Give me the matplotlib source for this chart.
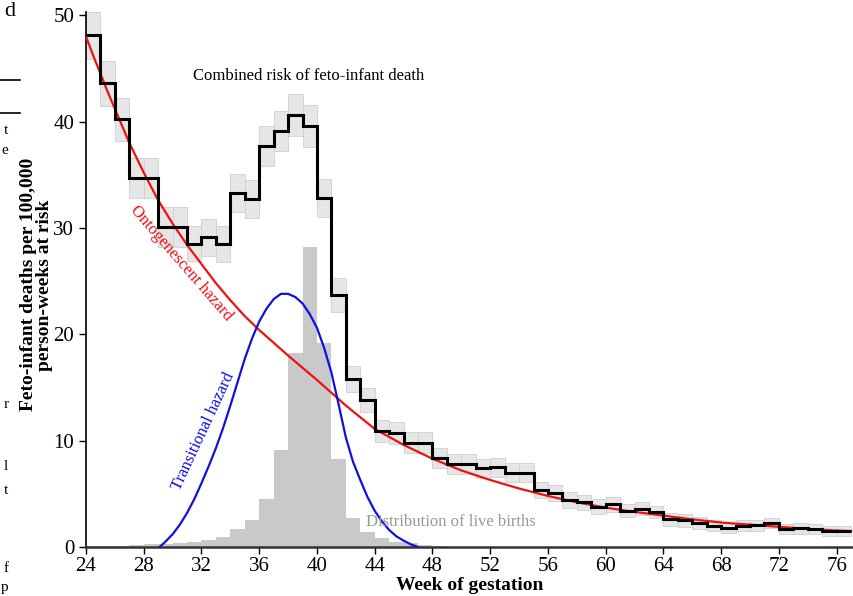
import numpy as np
import matplotlib
matplotlib.use("Agg")
import matplotlib.pyplot as plt
from matplotlib.lines import Line2D

plt.rcParams["font.family"] = ["Liberation Serif", "DejaVu Serif"]

# weekly bins of gestational age
week_start = list(range(24, 77))

# combined feto-infant death rate per 100,000 person-weeks, one value per week
death_rate = [48.1, 43.6, 40.2, 34.7, 34.7, 30.1, 30.1, 28.5, 29.1, 28.5,
              33.3, 32.7, 37.7, 39.1, 40.6, 39.6, 32.8, 23.7, 15.8, 13.8,
              10.9, 10.7, 9.8, 9.8, 8.4, 7.8, 7.8, 7.4, 7.5, 7.0,
              7.0, 5.35, 5.1, 4.4, 4.2, 3.8, 4.0, 3.4, 3.6, 3.3,
              2.6, 2.5, 2.25, 2.0, 1.8, 2.0, 2.05, 2.25, 1.7, 1.75,
              1.7, 1.5, 1.5]

# half-width of the confidence band around each weekly rate
ci_half = [2.2, 2.1, 2.0, 1.9, 1.9, 1.85, 1.85, 1.65, 1.7, 1.7,
           1.8, 1.8, 1.9, 1.9, 2.0, 2.0, 1.8, 1.6, 1.25, 1.15,
           1.05, 1.05, 1.0, 1.0, 0.95, 0.9, 0.9, 0.9, 0.9, 0.9,
           0.9, 0.75, 0.75, 0.75, 0.7, 0.7, 0.7, 0.6, 0.6, 0.6,
           0.6, 0.6, 0.6, 0.5, 0.5, 0.5, 0.5, 0.5, 0.5, 0.5,
           0.5, 0.5, 0.5]

# distribution of live births by week (same scale)
births_start = list(range(24, 49))
births = [0.1, 0.1, 0.1, 0.15, 0.25, 0.3, 0.4, 0.5, 0.7, 0.95,
          1.65, 2.55, 4.5, 9.1, 18.2, 28.2, 19.2, 8.3, 2.75, 1.45,
          0.8, 0.5, 0.35, 0.2, 0.05]

# ontogenescent hazard curve
onto_week = [24, 24.5, 25, 25.5, 26, 26.5, 27, 28, 29, 30, 31, 32, 33, 34, 35,
             36, 38, 40, 42, 44, 46, 48, 50, 52, 54, 56, 58, 60, 62, 64, 66,
             68, 70, 72, 74, 76, 77]
onto_rate = [48.0, 46.2, 44.5, 42.8, 41.2, 39.6, 38.0, 35.2, 32.6, 30.4,
             28.4, 26.6, 24.8, 23.2, 21.7, 20.4, 18.0, 15.7, 13.3, 11.1,
             9.6, 8.3, 7.2, 6.3, 5.5, 4.8, 4.2, 3.7, 3.3, 2.95, 2.6,
             2.3, 2.1, 1.9, 1.7, 1.55, 1.5]

# transitional hazard curve
trans_week = [29.1, 29.5, 30.0, 30.5, 31.0, 31.5, 32.0, 32.5, 33.0, 33.5,
              34.0, 34.5, 35.0, 35.5, 36.0, 36.5, 37.0, 37.5, 38.0, 38.5,
              39.0, 39.5, 40.0, 40.5, 41.0, 41.5, 42.0, 42.5, 43.0, 43.5,
              44.0, 44.5, 45.0, 45.5, 46.0, 46.5, 47.0]
trans_rate = [0.0, 0.5, 1.2, 2.1, 3.2, 4.5, 6.0, 7.6, 9.3, 11.2,
              13.3, 15.5, 17.7, 19.6, 21.2, 22.4, 23.3, 23.8, 23.8, 23.5,
              22.9, 21.9, 20.6, 18.7, 16.4, 13.4, 10.3, 8.0, 6.3, 4.7,
              3.4, 2.4, 1.6, 1.0, 0.6, 0.25, 0.0]

x_ticks = list(range(24, 77, 4))
y_ticks = [0, 10, 20, 30, 40, 50]

fig = plt.figure(figsize=(8.54, 5.96), dpi=100)
ax = fig.add_axes([86 / 854, 1 - 547 / 596, 1 - 86 / 854, 535 / 596])

rate = np.array(death_rate)
half = np.array(ci_half)
edges = np.append(week_start, week_start[-1] + 1)

# confidence band boxes
ax.bar(week_start, 2 * half, bottom=rate - half, width=1, align="edge",
       color="#e6e6e6", edgecolor="#cfcfcf", linewidth=0.6, zorder=1)

# live births histogram
ax.bar(births_start, births, width=1, align="edge", color="#c9c9c9",
       edgecolor="none", zorder=2)

ax.plot(onto_week, onto_rate, color="#ee1111", lw=1.6, zorder=3,
        solid_joinstyle="round")
ax.plot(trans_week, trans_rate, color="#1111dd", lw=1.6, zorder=3,
        solid_joinstyle="round")
ax.stairs(rate, edges, baseline=None, color="black", lw=2.2, zorder=4)

ax.text(31.4, 44.3, "Combined risk of feto-infant death", fontsize=12,
        ha="left", va="center")
ax.text(30.6, 26.7, "Ontogenescent hazard", fontsize=12, color="#ee1111",
        rotation=-49, ha="center", va="center", rotation_mode="anchor")
ax.text(32.1, 10.9, "Transitional hazard", fontsize=12, color="#1111dd",
        rotation=65, ha="center", va="center", rotation_mode="anchor")
ax.text(43.4, 2.35, "Distribution of live births", fontsize=12,
        color="#999999", ha="left", va="center")

ax.set_xlim(24, 77.2)
ax.set_ylim(0, 50.3)
ax.set_xticks(x_ticks)
ax.set_yticks(y_ticks)
ax.tick_params(labelsize=15, direction="out", length=5, width=1)
ax.tick_params(axis="x", pad=2)
ax.spines["top"].set_visible(False)
ax.spines["right"].set_visible(False)
ax.spines["left"].set_linewidth(1.2)
ax.spines["bottom"].set_linewidth(1.8)
ax.spines["bottom"].set_color("#333333")

ax.set_xlabel("Week of gestation", fontsize=14, fontweight="bold")
ax.xaxis.set_label_coords(0.5, -0.056)
ax.set_ylabel("Feto-infant deaths per 100,000\nperson-weeks at risk",
              fontsize=14, fontweight="bold", linespacing=0.95)
ax.yaxis.set_label_coords(-0.043, 0.49)

# clipped characters of the neighbouring text column
for ch, px, py, fs in [("d", 10, 12, 16), ("t", 6, 130, 11), ("e", 5, 150, 11),
                       ("r", 6, 405, 11), ("l", 6, 467, 11), ("t", 6, 490, 11),
                       ("f", 6, 568, 11), ("p", 5, 588, 11)]:
    fig.text(px / 854, 1 - py / 596, ch, fontsize=fs, ha="center", va="center")
for py in (80, 113):
    fig.add_artist(Line2D([0, 20 / 854], [1 - py / 596] * 2, color="black", lw=1.2))

fig.savefig("out.png", dpi=100)
